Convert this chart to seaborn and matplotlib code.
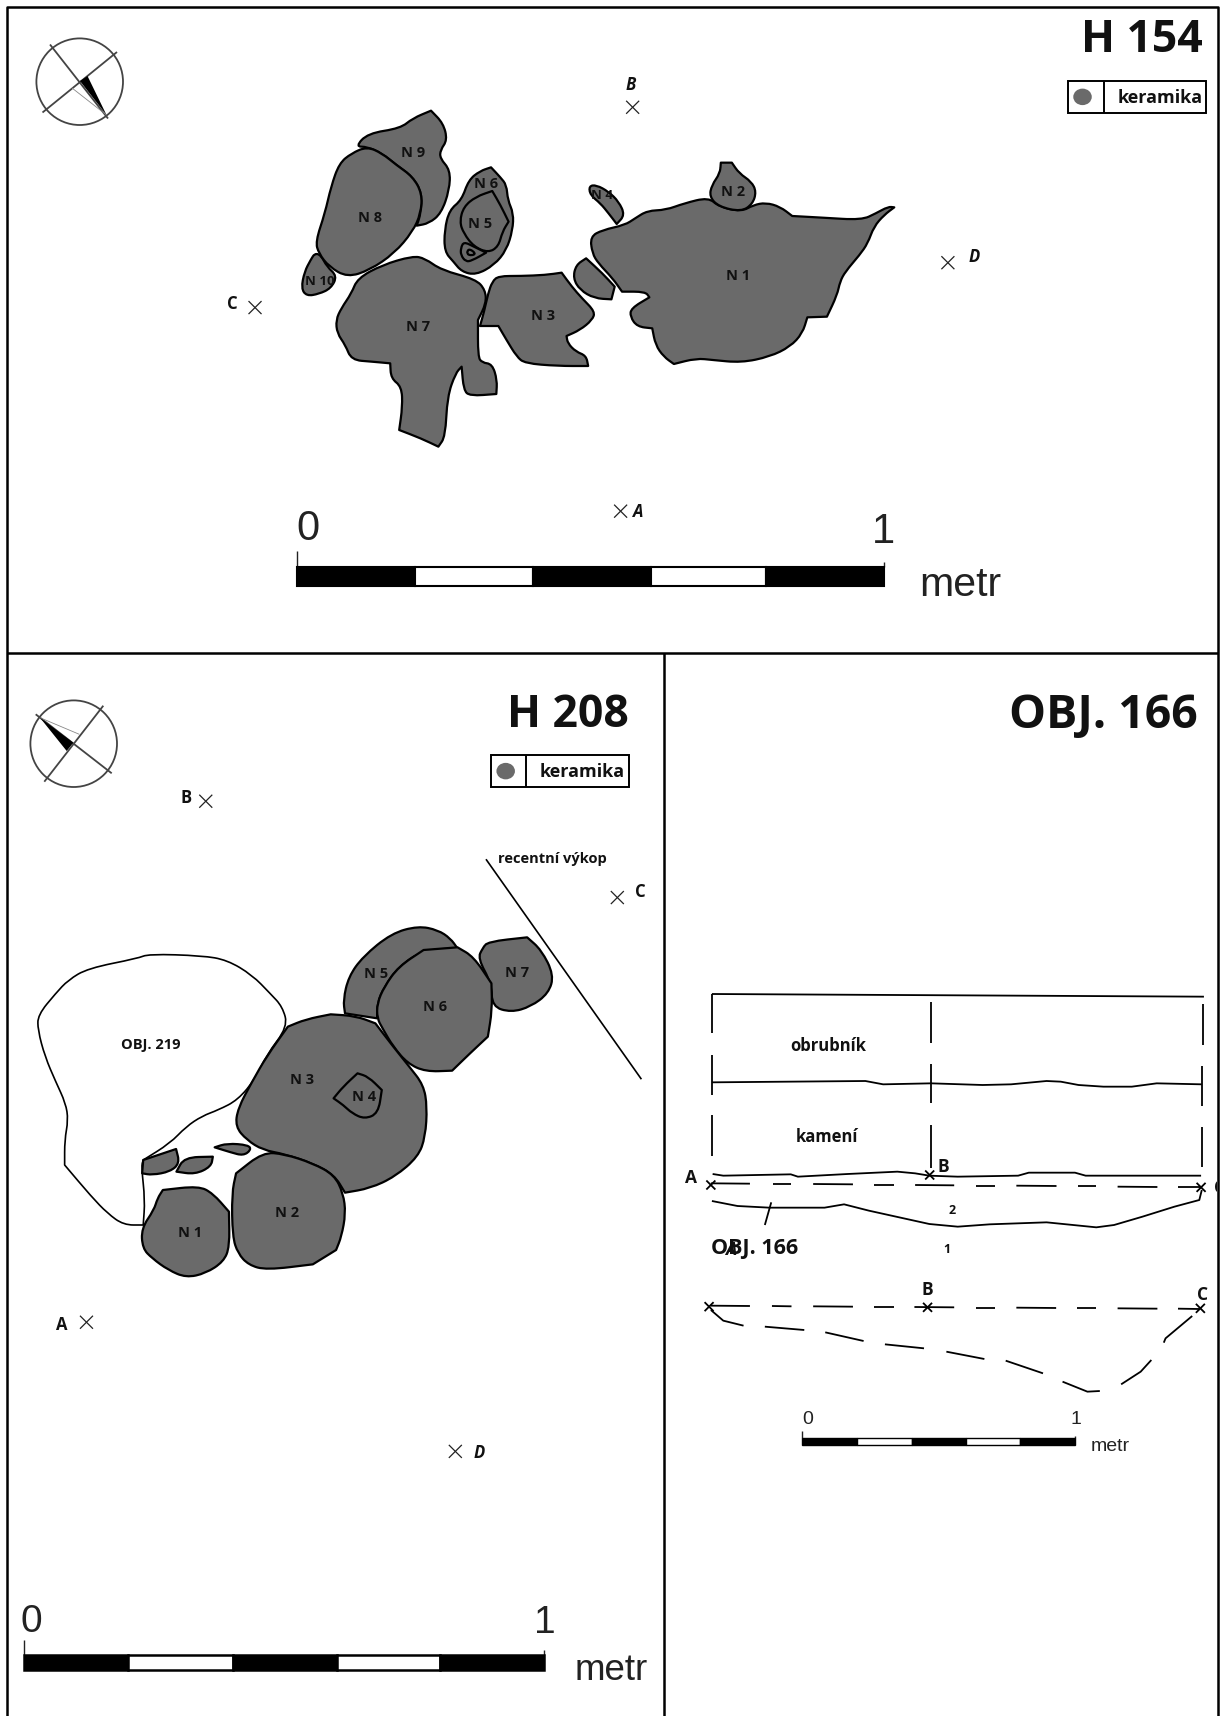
import matplotlib
matplotlib.use("Agg")
import matplotlib.pyplot as plt
from matplotlib.patches import Rectangle, Ellipse, Circle, PathPatch
from matplotlib.path import Path
import seaborn as sns

sns.set_theme(style="white")
plt.rcParams['font.family'] = ['Open Sans', 'DejaVu Sans']

# ---- outlines (crop pixel coordinates); a doubled vertex is a sharp corner ----
H154_N1 = [(760,440),(790,420),(845,405),(870,385),(900,362),(945,360),(990,340),(1050,322),(1075,350),(1130,365),(1160,345),(1190,338),(1225,350),(1255,378),(1255,378),(1330,383),(1425,390),(1460,370),(1490,350),(1505,352),(1505,352),(1480,375),(1455,410),(1440,460),(1420,495),(1385,545),(1372,575),(1365,615),(1340,680),(1340,680),(1292,682),(1292,682),(1280,730),(1250,770),(1200,800),(1130,818),(1060,810),(1020,805),(965,822),(965,822),(940,800),(920,765),(912,715),(912,715),(875,710),(858,680),(860,655),(905,622),(905,622),(895,605),(838,605),(838,605),(815,565),(780,520),(765,490)]
H154_N2 = [(1080,218),(1080,218),(1107,218),(1107,218),(1125,250),(1155,275),(1167,305),(1158,342),(1130,365),(1075,350),(1052,320),(1058,285),(1078,250)]
H154_N3 = [(535,558),(590,558),(650,555),(690,548),(690,548),(715,590),(740,625),(772,665),(765,690),(735,720),(702,738),(702,738),(705,760),(725,785),(750,797),(755,828),(755,828),(680,828),(600,820),(580,800),(555,750),(535,708),(535,708),(490,708),(490,708),(500,665),(510,610),(520,575)]
H154_N4 = [(757,288),(775,285),(805,305),(830,335),(845,375),(825,402),(825,402),(805,370),(785,340),(760,315)]
H154_X = [(750,505),(750,505),(790,550),(820,590),(820,590),(812,628),(812,628),(770,625),(735,600),(718,565),(725,525)]
H154_N6 = [(517,232),(517,232),(540,262),(555,285),(558,330),(572,370),(570,420),(555,480),(525,525),(480,555),(445,545),(425,515),(403,485),(403,420),(415,360),(445,330),(462,270),(490,243)]
H154_N5 = [(520,303),(520,303),(540,345),(560,395),(560,395),(545,425),(535,470),(510,488),(475,470),(450,430),(440,395),(450,350),(480,320)]
H154_N5a = [(450,455),(475,470),(505,488),(505,488),(470,512),(455,515),(443,495),(443,475)]
H154_N5b = [(462,475),(480,490),(470,497),(457,492)]
H154_N7 = [(325,498),(355,505),(395,540),(480,568),(503,600),(505,640),(485,690),(485,690),(485,800),(495,818),(520,822),(532,870),(530,912),(530,912),(465,918),(450,900),(445,830),(445,830),(430,850),(410,920),(405,1040),(388,1070),(388,1070),(345,1045),(292,1020),(292,1020),(300,950),(298,890),(272,865),(270,820),(270,820),(225,815),(175,810),(160,765),(140,730),(137,690),(150,655),(175,610),(190,565),(250,525)]
H154_N9 = [(185,170),(215,130),(295,115),(325,85),(370,62),(370,62),(400,100),(410,150),(393,180),(392,205),(417,240),(415,300),(395,370),(365,400),(335,407),(335,407),(345,370),(348,310),(325,260),(285,225),(250,190),(213,170)]
H154_N8 = [(213,170),(250,190),(285,225),(325,260),(348,310),(345,370),(325,425),(280,490),(220,540),(165,562),(120,530),(95,490),(87,455),(110,370),(125,290),(145,220),(175,190)]
H154_N10 = [(85,490),(100,495),(115,530),(140,558),(125,595),(95,612),(65,618),(52,595),(60,545),(75,510)]
H154_SHAPES = [H154_N1, H154_N2, H154_N3, H154_N4, H154_X, H154_N6, H154_N5, H154_N5a, H154_N5b, H154_N7, H154_N9, H154_N10, H154_N8]
H154_LABELS = [("N 1",1122,555),("N 2",1110,303),("N 3",645,675),("N 4",790,315),("N 5",490,398),("N 6",505,278),("N 7",338,707),("N 8",220,380),("N 9",325,187),("N 10",97,572)]

H208_OBJ = [(50,345),(100,280),(135,240),(190,205),(330,175),(360,162),(510,167),(580,180),(650,225),(700,280),(735,320),(750,380),(690,465),(660,535),(610,600),(555,630),(510,648),(465,680),(420,730),(345,780),(345,780),(340,800),(350,900),(345,975),(345,975),(290,975),(245,940),(200,890),(125,795),(125,795),(125,720),(135,660),(128,610),(100,545),(70,470),(50,390)]
H208_N5 = [(1115,78),(1170,90),(1205,115),(1225,145),(1225,145),(1130,150),(1060,200),(1020,260),(1000,310),(1000,355),(1000,355),(910,340),(910,340),(905,300),(920,230),(960,170),(1040,100)]
H208_N7 = [(1310,125),(1420,112),(1420,112),(1460,150),(1495,225),(1480,280),(1430,320),(1375,337),(1322,320),(1320,250),(1282,175),(1295,145)]
H208_N6 = [(1130,150),(1130,150),(1225,142),(1225,142),(1270,170),(1320,250),(1320,250),(1322,330),(1310,410),(1310,410),(1260,460),(1210,512),(1210,512),(1135,515),(1085,490),(1045,440),(1015,385),(1000,355),(1000,310),(1020,260),(1060,200)]
H208_N3 = [(870,343),(870,343),(940,348),(995,370),(995,370),(1045,440),(1090,500),(1130,555),(1140,620),(1135,710),(1115,770),(1050,830),(980,865),(910,878),(910,878),(880,825),(820,790),(740,762),(680,750),(635,720),(603,680),(610,625),(650,545),(690,470),(750,380),(750,380),(800,358)]
H208_N4 = [(945,520),(945,520),(975,530),(1013,570),(1013,570),(1003,640),(965,657),(930,640),(905,615),(878,595),(878,595),(905,560)]
H208_N2 = [(680,757),(740,762),(820,790),(880,825),(905,880),(912,940),(900,1010),(885,1050),(885,1050),(820,1093),(820,1093),(690,1110),(640,1095),(610,1060),(595,1010),(593,880),(605,820),(605,820)]
H208_N1 = [(400,870),(400,870),(500,858),(540,880),(585,935),(585,935),(587,1040),(570,1085),(520,1120),(465,1133),(415,1110),(370,1075),(343,1045),(340,985),(375,930),(385,895)]
H208_S1 = [(345,780),(345,780),(437,747),(437,747),(447,790),(420,815),(370,825),(342,820),(342,820)]
H208_S2 = [(460,772),(540,770),(540,770),(535,800),(490,823),(438,815),(438,815)]
H208_S3 = [(545,742),(545,742),(580,730),(640,735),(647,750),(625,767),(590,757)]
H208_SHAPES = [H208_N5, H208_N7, H208_N6, H208_N3, H208_N4, H208_N2, H208_N1, H208_S1, H208_S2, H208_S3]
H208_LABELS = [("N 1",477,995),("N 2",748,935),("N 3",790,537),("N 4",962,588),("N 5",998,218),("N 6",1163,317),("N 7",1392,217)]

SEC_TOP = [(118,72),(1503,80)]
SEC_VERT = [[(118,72),(118,190)],[(118,255),(118,375)],[(118,435),(118,558)],
            [(735,97),(735,218)],[(735,282),(735,400)],[(735,465),(735,595)],
            [(1500,103),(1500,225)],[(1498,288),(1498,408)],[(1497,470),(1497,592)]]
SEC_OBRUB = [(118,337),(550,333),(600,343),(735,340),(880,345),(960,343),(1060,333),(1100,335),(1150,345),(1220,350),(1300,350),(1370,340),(1497,343)]
SEC_UPPER = [(120,612),(150,617),(340,613),(360,620),(500,612),(640,605),(690,610),(730,617),(810,620),(980,617),(1010,608),(1140,608),(1170,617),(1495,617)]
SEC_DASH1 = [[(115,640),(225,641)],[(290,642),(340,642)],[(403,642),(515,643)],[(575,644),(630,644)],[(690,645),(800,646)],[(860,647),(915,647)],[(975,647),(1088,648)],[(1148,649),(1200,649)],[(1260,650),(1372,651)],[(1430,652),(1495,652)]]
SEC_LOWER = [(118,693),(190,708),(280,713),(435,713),(490,703),(560,722),(730,762),(810,770),(900,763),(1060,757),(1200,772),(1250,765),(1330,740),(1420,710),(1490,690),(1497,660)]
SEC_TICK = [(285,697),(267,765)]
SEC_DASH2 = [[(115,1007),(225,1008)],[(287,1008),(342,1009)],[(403,1009),(515,1010)],[(573,1011),(630,1011)],[(688,1011),(800,1012)],[(860,1013),(915,1013)],[(975,1013),(1087,1014)],[(1147,1015),(1200,1015)],[(1260,1015),(1372,1016)],[(1430,1016),(1490,1017)]]
SEC_CURVE = [[(115,1020),(150,1052),(207,1067)],[(267,1070),(378,1080)],[(437,1087),(545,1113)],[(605,1123),(715,1135)],[(778,1145),(885,1167)],[(945,1172),(1050,1210)],[(1105,1235),(1175,1265),(1210,1263)],[(1270,1243),(1325,1205),(1355,1170)],[(1390,1118),(1395,1105),(1470,1038)]]
SEC_CROSSES = [(115,645),(731,615),(1495,652),(110,1010),(725,1012),(1493,1015)]
SEC_TEXT = [("obrubník",445,225,12),("kamení",442,498,12),("2",795,718,9),("1",780,835,9)]
SEC_LETTERS = [("A",58,620),("B",768,588),("B",723,955),("C",1500,972)]

# overview coordinates (full picture shown at 1121 px wide)
H154_CROSSES = [(578,98),(866,240),(233,281),(567,467)]
H154_POINTS = [("B",576,77,"italic"),("D",890,234,"italic"),("C",212,277,"normal"),("A",583,467,"italic")]
H208_CROSSES = [(188,732),(564,820),(79,1208),(416,1326)]
H208_POINTS = [("B",170,728,"normal"),("C",585,814,"normal"),("A",56,1209,"normal"),("D",438,1326,"italic")]
BAR_TOP = [271,379,487,595,700,808]
BAR_H208 = [22,117,213,308,402,497]
BAR_SEC = [733,783,833,883,932,982]
RECENT_LINE = [(444,785),(586,986)]

GREY = "#6a6a6a"
K = 1227 / 1121

def crop1(p): return (280 + p[0] / 2.45, 90 + p[1] / 3)
def crop2(p): return (20 + p[0] / 2.8, 900 + p[1] / 3)
def crop3(p): return (670 + p[0] / 2.815, 970 + p[1] / 3)
def view(p): return (p[0] * K, p[1] * K)

fig = plt.figure(figsize=(12.27, 17.16), dpi=100, facecolor="white")
ax = fig.add_axes([0, 0, 1, 1])

def stroke(pts, lw=1.5, color="black", z=3):
    xs, ys = zip(*pts)
    sns.lineplot(x=list(xs), y=list(ys), sort=False, estimator=None, errorbar=None, color=color,
                 linewidth=lw, ax=ax, legend=False, zorder=z, solid_joinstyle="round", solid_capstyle="butt")

def shape(pts, fill=GREY, lw=1.6, z=2):
    n = len(pts)
    mids = [((pts[i][0] + pts[(i+1) % n][0]) / 2, (pts[i][1] + pts[(i+1) % n][1]) / 2) for i in range(n)]
    verts, codes = [mids[-1]], [Path.MOVETO]
    for i in range(n):
        verts += [pts[i], mids[i]]
        codes += [Path.CURVE3, Path.CURVE3]
    ax.add_patch(PathPatch(Path(verts, codes), fc=fill, ec="black", lw=lw, zorder=z, joinstyle="round"))

def cross(c, r=6.5, lw=0.9, color="#222222"):
    stroke([(c[0]-r, c[1]-r), (c[0]+r, c[1]+r)], lw=lw, color=color, z=5)
    stroke([(c[0]-r, c[1]+r), (c[0]+r, c[1]-r)], lw=lw, color=color, z=5)

def label(s, p, size=11, style="normal", weight="bold", **kw):
    ax.text(p[0], p[1] + 0.1 * size, s, fontsize=size, fontweight=weight, style=style, ha="center", va="center",
            color="#111111", zorder=8, **kw)

def scale_bar(edges, y0, y1, ytick, lab0, lab1, labm, size, msize, lw):
    e = [view((v, 0))[0] for v in edges]
    t, b = view((0, y0))[1], view((0, y1))[1]
    for i in range(5):
        ax.add_patch(Rectangle((e[i], t), e[i+1]-e[i], b-t, fc="black" if i % 2 == 0 else "white",
                               ec="black", lw=lw, zorder=4))
    stroke([(e[0], view((0, ytick))[1]), (e[0], t)], lw=1.0, color="#222222")
    stroke([(e[5], t - (t - view((0, ytick))[1]) / 3), (e[5], t)], lw=1.0, color="#222222")
    for s, p, fs in [("0", lab0, size), ("1", lab1, size), ("metr", labm, msize)]:
        q = view(p)
        ax.text(q[0], q[1] + 0.1 * fs, s, fontsize=fs, family=["Liberation Sans"], ha="center", va="center",
                color="#222222", zorder=8)

def compass(c, r, l1, l2, tri, grey):
    ax.add_patch(Circle(c, r, fc="white", ec="#444444", lw=1.3, zorder=3))
    stroke(l1, lw=1.3, color="#444444", z=4)
    stroke(l2, lw=1.3, color="#444444", z=4)
    stroke(grey, lw=0.6, color="#888888", z=4)
    xs, ys = zip(*tri)
    ax.fill(xs, ys, color="black", zorder=5, lw=0)

def legend_box(x0, y0, x1, y1, xd, cx, tx):
    a, b = view((x0, y0)), view((x1, y1))
    ax.add_patch(Rectangle(a, b[0]-a[0], b[1]-a[1], fc="white", ec="black", lw=1.4, zorder=4))
    d = view((xd, 0))[0]
    stroke([(d, a[1]), (d, b[1])], lw=1.4, z=5)
    cc = view((cx, (y0+y1)/2))
    ax.add_patch(Ellipse(cc, 18.5, 16.5, fc=GREY, ec="none", zorder=5))
    label("keramika", view((tx, (y0+y1)/2)), size=13)

# --- H 154 ---
compass((79.7, 81.7), 43.3,
        [(50, 44.5), (108, 118.5)], [(42.5, 112.5), (117, 52)],
        [(80, 81), (87.5, 76), (106.5, 115)], [(72, 88), (106.5, 115)])
for s in H154_SHAPES:
    shape([crop1(p) for p in s])
for s, x, y in H154_LABELS:
    label(s, crop1((x, y)), size=9.5 if s in ("N 10", "N 4") else 10.5)
for c in H154_CROSSES:
    cross(view(c))
for s, x, y, st in H154_POINTS:
    label(s, view((x, y)), size=12, style=st)
legend_box(976, 74, 1102, 103, 1009, 989, 1060)
label("H 154", view((1043, 34)), size=32)
scale_bar(BAR_TOP, 518, 535, 503, (281, 481), (807, 483), (877, 532), 30, 29.5, 1.5)

# --- H 208 ---
compass((73.7, 743.7), 43.3,
        [(35.7, 714.3), (111.7, 773.3)], [(44.3, 781.7), (103.3, 705.7)],
        [(40, 717.7), (73.3, 742.7), (66.7, 751)], [(40, 717.7), (79.3, 734.3)])
shape([crop2(p) for p in H208_OBJ], fill="white", lw=1.2)
for s in H208_SHAPES:
    shape([crop2(p) for p in s])
for s, x, y in H208_LABELS:
    label(s, crop2((x, y)), size=10.5)
label("OBJ. 219", crop2((365, 432)), size=10.5)
for c in H208_CROSSES:
    cross(view(c))
for s, x, y, st in H208_POINTS:
    label(s, view((x, y)), size=12, style=st)
legend_box(449, 690, 575, 719, 481, 462, 532)
label("H 208", view((519, 651)), size=32)
label("recentní výkop", view((505, 784)), size=10.5)
stroke([view(p) for p in RECENT_LINE], lw=1.2)
scale_bar(BAR_H208, 1512, 1526, 1498, (29, 1479), (498, 1480), (558, 1524), 28, 26.5, 1.8)

# --- OBJ. 166 ---
label("OBJ. 166", view((1008, 651)), size=33.5)
for line in [SEC_TOP, SEC_OBRUB, SEC_UPPER, SEC_LOWER, SEC_TICK] + SEC_VERT + SEC_DASH1 + SEC_DASH2 + SEC_CURVE:
    stroke([crop3(p) for p in line], lw=1.3)
for c in SEC_CROSSES:
    cross(crop3(c), r=4.5, lw=1.3, color="black")
for s, x, y, fs in SEC_TEXT:
    label(s, crop3((x, y)), size=fs)
for s, x, y in SEC_LETTERS:
    label(s, crop3((x, y)), size=12.5)
label("OBJ. 166", crop3((238, 830)), size=15.5)
label("A", crop3((172, 835)), size=13, style="italic")
clip_c = ax.text(*crop3((1548, 655)), "C", fontsize=12.5, fontweight="bold", ha="center", va="center",
                 color="#111111", zorder=6, clip_on=True)
clip_c.set_clip_path(Rectangle((1100, 1100), 117, 300, transform=ax.transData))
scale_bar(BAR_SEC, 1314, 1320, 1307, (738, 1296), (983, 1296), (1014, 1320), 14, 14, 1.0)

# --- frame ---
for line in [[(6, 1568), (6, 6), (1113, 6), (1113, 1568)], [(6, 597), (1113, 597)], [(607, 597), (607, 1568)]]:
    stroke([view(p) for p in line], lw=1.8, z=9)

ax.set_xlim(0, 1227)
ax.set_ylim(1716, 0)
ax.axis("off")
fig.savefig("out.png", dpi=100, facecolor="white")
